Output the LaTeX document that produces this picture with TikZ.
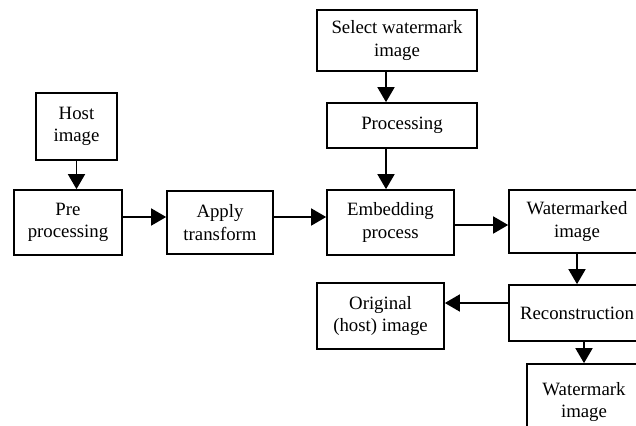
\documentclass[tikz,border=0pt]{standalone}
\usepackage{fontspec}
\setmainfont{Liberation Serif}
\usetikzlibrary{arrows.meta}

\begin{document}
\begin{tikzpicture}[
            x = 1pt, y = -1pt, % one unit per pixel, y downwards
            > = {Triangle[length=15pt, width=17pt]}, % arrow head style
            line width = 1.7pt,
            every node/.style = {font = \fontsize{18.8}{22.5}\selectfont}
        ]

        \tikzset{
            block/.style = {
                draw = black,
                align = center,
                inner sep = 2pt
            }
        }

        \useasboundingbox (0,0) rectangle (636,425);
        \clip (0,0) rectangle (636,425);

	\node[block, minimum width=81pt, minimum height=67pt] (host) at (76.5,126.5) {Host\\image};
	\node[block, minimum width=108pt, minimum height=65pt] (pre) at (68,222.5) {Pre\\processing};
	\node[block, minimum width=106pt, minimum height=63pt] (apply) at (220,222.5) {Apply\\transform};
	\node[block, minimum width=160pt, minimum height=61pt] (select) at (397,40.5) {Select watermark\\image};
	\node[block, minimum width=150pt, minimum height=45pt] (proc) at (402,125.5) {Processing};
	\node[block, minimum width=127pt, minimum height=65pt] (embed) at (390.5,222.5) {Embedding\\process};
	\node[block, minimum width=136pt, minimum height=63pt] (marked) at (577,221.5) {Watermarked\\image};
	\node[block, minimum width=136pt, minimum height=56pt] (recon) at (577,313) {Reconstruction};
	\node[block, minimum width=127pt, minimum height=66pt] (orig) at (380.5,316) {Original\\(host) image};
	\node[block, minimum width=114pt, minimum height=76pt] (wmark) at (584,402) {Watermark\\image};

	\draw[->] (host.south) -- (host.south |- pre.north);
	\draw[->] ([yshift=5.5pt]pre.east) -- ([yshift=5.5pt]apply.west);
	\draw[->] ([yshift=5.5pt]apply.east) -- ([yshift=5.5pt]embed.west);
	\draw[->] ([xshift=-11pt]select.south) -- ([xshift=-11pt]select.south |- proc.north);
	\draw[->] ([xshift=-16pt]proc.south) -- ([xshift=-16pt]proc.south |- embed.north);
	\draw[->] ([yshift=-2.5pt]embed.east) -- ([yshift=-2.5pt]embed.east -| marked.west);
	\draw[->] (marked.south) -- (recon.north);
	\draw[->] ([yshift=10pt]recon.west) -- ([yshift=10pt]recon.west -| orig.east);
	\draw[->] ([xshift=7pt]recon.south) -- ([xshift=7pt]recon.south |- wmark.north);

    \end{tikzpicture}
\end{document}
